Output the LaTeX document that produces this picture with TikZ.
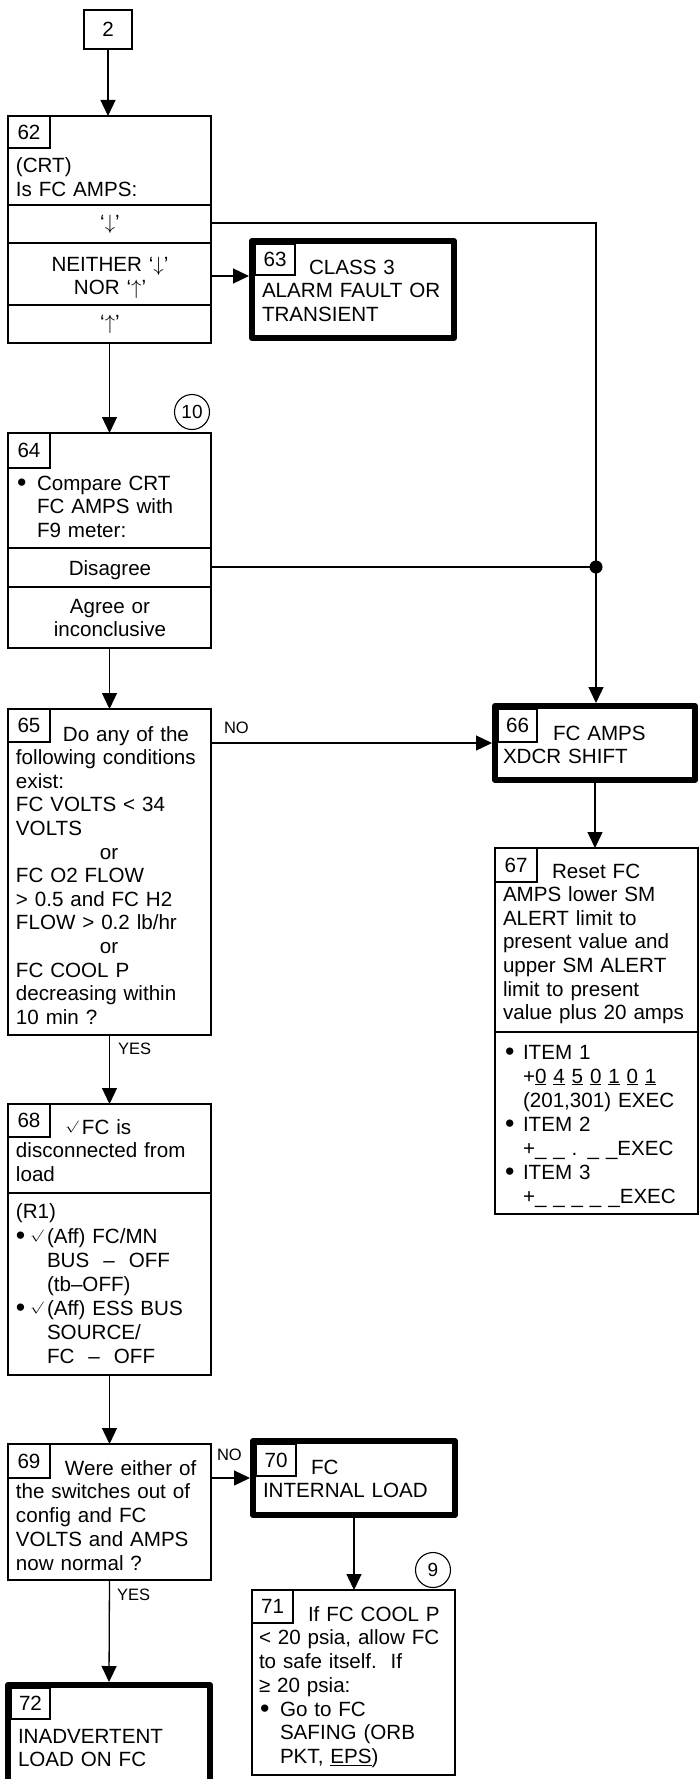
\documentclass[tikz,border=0pt]{standalone}
\usepackage{fontspec}
\usepackage{graphicx}
\setmainfont{Liberation Sans}
\usetikzlibrary{arrows.meta}
\newcommand{\mychk}{\raisebox{4pt}{\scalebox{1.35}[1]{\fontsize{12}{12}\selectfont$\surd$}}}
\newcommand{\mybul}{\raisebox{-1.5pt}{\scalebox{1.3}{•}}}
\begin{document}
\begin{tikzpicture}[x=1pt,y=-1pt,
 every node/.style={inner sep=0pt,outer sep=0pt},
 fnt/.style={font=\fontsize{20.6}{23.6}\selectfont},
 box/.style={draw,line width=1.3pt,anchor=north west},
 tbox/.style={draw,line width=6pt,anchor=north west,line join=round},
 nbox/.style={draw,line width=1.2pt,anchor=north west,fnt},
 txt/.style={fnt,anchor=base west,text width=180pt,align=left},
 btxt/.style={fnt,anchor=base west},
 ctxt/.style={fnt,anchor=base,text width=180pt,align=center},
 lbl/.style={font=\fontsize{16.5}{18}\selectfont,anchor=base west},
 conn/.style={line width=1.3pt},
 arr/.style={conn,-{Triangle[width=15pt,length=16pt]}},
 ring/.style={draw,circle,line width=1.1pt,minimum size=35pt,font=\fontsize{19}{20}\selectfont},
 dv/.style={line width=1.3pt}
]
\path[use as bounding box,fill=white] (0,0) rectangle (699,1779);
\clip (0,0) rectangle (699,1779);

% start
\node[box,minimum width=48pt,minimum height=39pt,fnt] (b2) at (84,10) {2};

% 62
\node[box,minimum width=203pt,minimum height=227pt] (b62) at (8,116) {};
\node[nbox,minimum width=42pt,minimum height=32pt] (n62) at (8,116) {62};
\node[txt] (t62) at (16,173) {(CRT)\\Is FC AMPS:};
\draw[dv] (8,205) -- (211,205);
\draw[dv] (8,243) -- (211,243);
\draw[dv] (8,305) -- (211,305);
\node[fnt] (r62a) at (110,224) {‘$\downarrow$’};
\node[ctxt] (r62b) at (110,271) {NEITHER ‘$\downarrow$’\\NOR ‘$\uparrow$’};
\node[fnt] (r62c) at (110,324) {‘$\uparrow$’};

% 63
\node[tbox,minimum width=202pt,minimum height=97pt] (b63) at (252,241) {};
\node[nbox,minimum width=40pt,minimum height=31pt] (n63) at (255,244) {63};
\node[txt] (t63) at (262,274) {\hspace*{47pt}CLASS 3\\ALARM FAULT OR\\TRANSIENT};

% 64
\node[ring] (c10) at (192,412) {10};
\node[box,minimum width=203pt,minimum height=215pt] (b64) at (8,433) {};
\node[nbox,minimum width=42pt,minimum height=35pt] (n64) at (8,433) {64};
\node[btxt] (u64) at (17,490) {\mybul};
\node[txt,text width=160pt] (t64) at (37,490) {Compare CRT\\FC AMPS with\\F9 meter:};
\draw[dv] (8,548) -- (211,548);
\draw[dv] (8,587) -- (211,587);
\node[ctxt] (r64a) at (110,575) {Disagree};
\node[ctxt] (r64b) at (110,613) {Agree or\\inconclusive};

% 65
\node[box,minimum width=203pt,minimum height=326pt] (b65) at (8,709) {};
\node[nbox,minimum width=42pt,minimum height=33pt] (n65) at (8,709) {65};
\node[txt,text width=190pt] (t65) at (16,741) {\hspace*{47pt}Do any of the\\following conditions\\exist:\\FC VOLTS < 34\\VOLTS\\\hspace*{84pt}or\\FC O2 FLOW\\> 0.5 and FC H2\\FLOW > 0.2 lb/hr\\\hspace*{84pt}or\\FC COOL P\\decreasing within\\10 min ?};

% 66
\node[tbox,minimum width=200pt,minimum height=74pt] (b66) at (495,706) {};
\node[nbox,minimum width=39pt,minimum height=33pt] (n66) at (498,709) {66};
\node[txt] (t66) at (503,740) {\hspace*{50pt}FC AMPS\\XDCR SHIFT};

% 67
\node[box,minimum width=203pt,minimum height=366pt] (b67) at (495,848) {};
\node[nbox,minimum width=42pt,minimum height=34pt] (n67) at (495,848) {67};
\node[txt,text width=190pt] (t67) at (503,878) {\hspace*{49pt}Reset FC\\AMPS lower SM\\ALERT limit to\\present value and\\upper SM ALERT\\limit to present\\value plus 20 amps};
\draw[dv] (495,1032) -- (698,1032);
\node[btxt] (u67a) at (505,1059) {\mybul};
\node[btxt] (u67b) at (505,1131) {\mybul};
\node[btxt] (u67c) at (505,1179) {\mybul};
\node[txt,text width=165pt,font=\fontsize{20.6}{24}\selectfont] (i67) at (523,1059) {ITEM 1\\+\underline{0} \underline{4} \underline{5} \underline{0} \underline{1} \underline{0} \underline{1}\\(201,301) EXEC\\ITEM 2\\+\_ \_ . \_ \_EXEC\\ITEM 3\\+\_ \_ \_ \_ \_EXEC};

% 68
\node[box,minimum width=203pt,minimum height=271pt] (b68) at (8,1104) {};
\node[nbox,minimum width=42pt,minimum height=33pt] (n68) at (8,1104) {68};
\node[anchor=base west] (k68a) at (65,1134) {\mychk};
\node[txt,text width=190pt] (t68) at (16,1134) {\hspace*{66pt}FC is\\disconnected from\\load};
\draw[dv] (8,1193) -- (211,1193);
\node[btxt] (r1) at (16,1218) {(R1)};
\node[btxt] (u68a) at (16,1243) {\mybul};
\node[btxt] (u68b) at (16,1315) {\mybul};
\node[anchor=base west] (k68b) at (30,1243) {\mychk};
\node[anchor=base west] (k68c) at (30,1315) {\mychk};
\node[txt,text width=160pt,font=\fontsize{20.6}{24}\selectfont] (t68b) at (47,1243) {(Aff) FC/MN\\BUS\hspace{14pt}–\hspace{14pt}OFF\\(tb–OFF)\\(Aff) ESS BUS\\SOURCE/\\FC\hspace{14pt}–\hspace{14pt}OFF};

% 69
\node[box,minimum width=203pt,minimum height=136pt] (b69) at (8,1444) {};
\node[nbox,minimum width=42pt,minimum height=34pt] (n69) at (8,1444) {69};
\node[txt,text width=190pt,font=\fontsize{20.6}{23.75}\selectfont] (t69) at (16,1475) {\hspace*{49pt}Were either of\\the switches out of\\config and FC\\VOLTS and AMPS\\now normal ?};

% 70
\node[tbox,minimum width=202pt,minimum height=74pt] (b70) at (253,1441) {};
\node[nbox,minimum width=40pt,minimum height=32pt] (n70) at (256,1444) {70};
\node[txt] (t70) at (263,1474) {\hspace*{48pt}FC\\INTERNAL LOAD};

% 71
\node[ring] (c9) at (433,1570) {9};
\node[box,minimum width=203pt,minimum height=185pt] (b71) at (252,1590) {};
\node[nbox,minimum width=41pt,minimum height=33pt] (n71) at (252,1590) {71};
\node[txt,text width=190pt,font=\fontsize{20.6}{23.9}\selectfont] (t71) at (259,1621) {\hspace*{49pt}If FC COOL P\\< 20 psia, allow FC\\to safe itself.\ \ If\\≥ 20 psia:};
\node[btxt] (u71) at (260,1716) {\mybul};
\node[txt,text width=170pt] (t71b) at (280,1716) {Go to FC\\SAFING (ORB\\PKT, \underline{EPS})};

% 72
\node[tbox,minimum width=202pt,minimum height=115pt] (b72) at (8,1685) {};
\node[nbox,minimum width=39pt,minimum height=31pt] (n72) at (11,1688) {72};
\node[txt,font=\fontsize{20.6}{23}\selectfont] (t72) at (18,1743) {INADVERTENT\\LOAD ON FC};

% connectors
\coordinate (k1) at (596,223);
\coordinate (k2) at (0,276);
\coordinate (k3) at (596,567);
\draw[arr] (b2.south) -- (b2.south |- b62.north);
\draw[arr] (b62.east |- k1) -- (k1) -- ([yshift=3pt]k1 |- b66.north);
\draw[arr] (b62.east |- k2) -- ([xshift=-3pt]b63.west |- k2);
\draw[arr] (b62.south) -- (b64.north);
\draw[conn] (b64.east |- k3) -- (k3);
\fill (k3) circle (6.5pt);
\draw[arr] (b64.south) -- (b65.north);
\draw[arr] (b65.east |- b66.west) -- ([xshift=-3pt]b66.west);
\node[lbl] (no1) at (224,733) {NO};
\draw[arr] (b66.south) -- (b66.south |- b67.north);
\draw[arr] (b65.south) -- (b68.north);
\node[lbl] (yes1) at (118,1054) {YES};
\draw[arr] (b68.south) -- (b69.north);
\draw[arr] (b69.east |- b70.west) -- ([xshift=-3pt]b70.west);
\node[lbl] (no2) at (217,1460) {NO};
\draw[arr] (b70.south) -- (b70.south |- b71.north);
\draw[arr] (b69.south) -- ([yshift=3pt]b72.north);
\node[lbl] (yes2) at (117,1600) {YES};
\end{tikzpicture}
\end{document}
